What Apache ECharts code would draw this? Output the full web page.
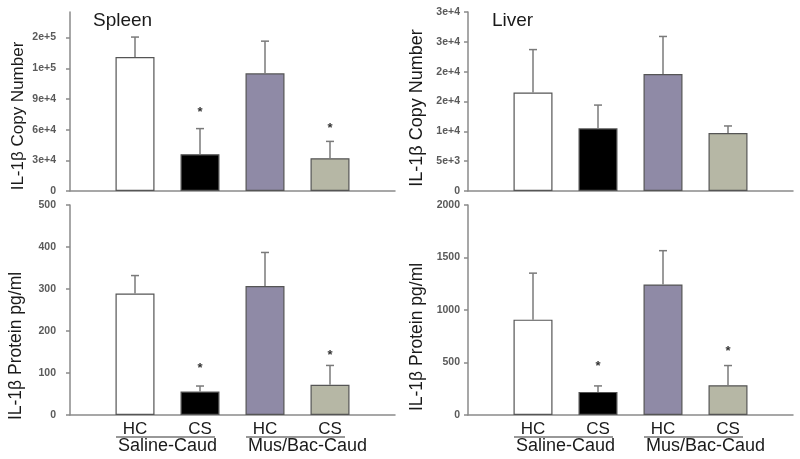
<!DOCTYPE html>
<html><head><meta charset="utf-8">
<script src="https://cdn.jsdelivr.net/npm/echarts@6/dist/echarts.min.js"></script>
<style>html,body{margin:0;padding:0;background:#fff}#c{width:800px;height:459px}</style>
</head><body><div id="c"></div>
<script>
// ---- data ----
const categories = ['', 'HC', 'CS', 'HC', 'CS', ''];
const groupNames = ['Saline-Caud', 'Mus/Bac-Caud'];
const panelTitles = ['Spleen', 'Liver'];
const yNames = ['IL-1\u03b2 Copy Number', 'IL-1\u03b2 Copy Number', 'IL-1\u03b2 Protein pg/ml', 'IL-1\u03b2 Protein pg/ml'];
const barColors = ['#ffffff', '#000000', '#8f8aa6', '#b6b7a5'];

const spleenCopy = [131000, 36000, 115000, 32000];
const spleenCopyErr = [19500, 25000, 31500, 16500];
const spleenCopyStar = [null, 80000, null, 64500];

const liverCopy = [16500, 10500, 19600, 9700];
const liverCopyErr = [7200, 3900, 6300, 1200];
const liverCopyStar = [null, null, null, null];

const spleenProt = [289, 56, 307, 72];
const spleenProtErr = [43, 13, 80, 46];
const spleenProtStar = [null, 118, null, 150];

const liverProt = [908, 220, 1243, 284];
const liverProtErr = [443, 57, 322, 187];
const liverProtStar = [null, 490, null, 631];

const spleenCopyTicks = [0, 30000, 60000, 90000, 120000, 150000];
const spleenCopyTickLabels = ['0', '3e+4', '6e+4', '9e+4', '1e+5', '2e+5'];
const liverCopyTicks = [0, 5000, 10000, 15000, 20000, 25000, 30000];
const liverCopyTickLabels = ['0', '5e+3', '1e+4', '2e+4', '2e+4', '3e+4', '3e+4'];
const spleenProtTicks = [0, 100, 200, 300, 400, 500];
const spleenProtTickLabels = ['0', '100', '200', '300', '400', '500'];
const liverProtTicks = [0, 500, 1000, 1500, 2000];
const liverProtTickLabels = ['0', '500', '1000', '1500', '2000'];

// ---- panels ----
const FONT = 'Liberation Sans, Arial, Helvetica, sans-serif';
const panels = [
  {vals: spleenCopy, err: spleenCopyErr, star: spleenCopyStar, ticks: spleenCopyTicks, labels: spleenCopyTickLabels, max: 175000,
   grid: {left: 70, top: 12, width: 325, height: 179}, labelMargin: 14, xLabels: false},
  {vals: liverCopy, err: liverCopyErr, star: liverCopyStar, ticks: liverCopyTicks, labels: liverCopyTickLabels, max: 30000,
   grid: {left: 468, top: 12, width: 325, height: 179}, labelMargin: 8, xLabels: false},
  {vals: spleenProt, err: spleenProtErr, star: spleenProtStar, ticks: spleenProtTicks, labels: spleenProtTickLabels, max: 500,
   grid: {left: 70, top: 205, width: 325, height: 210}, labelMargin: 14, xLabels: true},
  {vals: liverProt, err: liverProtErr, star: liverProtStar, ticks: liverProtTicks, labels: liverProtTickLabels, max: 2000,
   grid: {left: 468, top: 205, width: 325, height: 210}, labelMargin: 8, xLabels: true}
];

const AXIS_COLOR = '#8a8a8a';
const ERR_COLOR = '#7a7a7a';

function errRender(params, api) {
  const x = api.value(0), v = api.value(1), e = api.value(2);
  const p0 = api.coord([x, v]);
  const p1 = api.coord([x, v + e]);
  return {type: 'group', children: [
    {type: 'line', shape: {x1: p0[0], y1: p0[1], x2: p1[0], y2: p1[1]}, style: {stroke: ERR_COLOR, lineWidth: 1.5}},
    {type: 'line', shape: {x1: p1[0] - 4, y1: p1[1], x2: p1[0] + 4, y2: p1[1]}, style: {stroke: ERR_COLOR, lineWidth: 1.5}}
  ]};
}
function starRender(params, api) {
  const p = api.coord([api.value(0), api.value(1)]);
  return {type: 'text', x: p[0], y: p[1] + 3,
    style: {text: '*', align: 'center', verticalAlign: 'middle', fontSize: 13, fontWeight: 'bold', fill: '#333', fontFamily: FONT}};
}

const grids = [], xAxes = [], yAxes = [], series = [];
panels.forEach((pn, i) => {
  grids.push(Object.assign({containLabel: false}, pn.grid));
  xAxes.push({
    type: 'category', gridIndex: i, data: categories, boundaryGap: false,
    axisLine: {show: true, lineStyle: {color: AXIS_COLOR, width: 1.5}},
    axisTick: {show: false},
    axisLabel: {show: pn.xLabels, interval: 0, margin: 6, fontSize: 17, color: '#1a1a1a', fontFamily: FONT}
  });
  yAxes.push({
    type: 'value', gridIndex: i, min: 0, max: pn.max,
    splitLine: {show: false},
    axisLine: {show: true, lineStyle: {color: AXIS_COLOR, width: 1.5}},
    axisTick: {show: true, length: 4, inside: false, customValues: pn.ticks, lineStyle: {color: AXIS_COLOR, width: 1.5}},
    axisLabel: {show: true, customValues: pn.ticks, margin: pn.labelMargin, fontSize: 10.5, fontWeight: 'bold', color: '#5a5a5a', fontFamily: FONT,
      formatter: (v) => { const k = pn.ticks.indexOf(v); return k >= 0 ? pn.labels[k] : ''; }}
  });
  series.push({
    type: 'bar', xAxisIndex: i, yAxisIndex: i, barWidth: 39,
    data: [null].concat(pn.vals.map((v, k) => ({value: v, itemStyle: {color: barColors[k]}})), [null]),
    itemStyle: {borderColor: '#555555', borderWidth: 1.2}
  });
  series.push({
    type: 'custom', xAxisIndex: i, yAxisIndex: i, z: 3,
    data: pn.vals.map((v, k) => [k + 1, v, pn.err[k]]),
    renderItem: errRender
  });
  series.push({
    type: 'custom', xAxisIndex: i, yAxisIndex: i, z: 4,
    data: pn.star.map((s, k) => [k + 1, s]).filter(d => d[1] !== null),
    renderItem: starRender
  });
});

const chart = echarts.init(document.getElementById('c'), null, {renderer: 'canvas'});
chart.setOption({
  animation: false, backgroundColor: '#ffffff',
  grid: grids, xAxis: xAxes, yAxis: yAxes, series: series
});

// annotations: titles, y names, group underlines + labels
const graphics = [];
graphics.push({type: 'text', left: 93, top: 11, style: {text: panelTitles[0], fontSize: 19, fill: '#1a1a1a', fontFamily: FONT}});
graphics.push({type: 'text', left: 492, top: 11, style: {text: panelTitles[1], fontSize: 19, fill: '#1a1a1a', fontFamily: FONT}});
const namePos = [[18, 116, 17], [417, 108, 18], [16, 346, 17.5], [417, 337, 17.5]];
namePos.forEach((np, i) => {
  graphics.push({type: 'text', x: np[0], y: np[1], rotation: Math.PI / 2,
    style: {text: yNames[i], fontSize: np[2], fill: '#1a1a1a', align: 'center', verticalAlign: 'middle', fontFamily: FONT}});
});
[2, 3].forEach((ai) => {
  for (let g = 0; g < 2; g++) {
    const xHC = chart.convertToPixel({xAxisIndex: ai}, 1 + 2 * g);
    const xCS = chart.convertToPixel({xAxisIndex: ai}, 2 + 2 * g);
    const yAx = chart.convertToPixel({yAxisIndex: ai}, 0);
    const x1 = xHC - 19, x2 = xCS + 15;
    graphics.push({type: 'line', shape: {x1: x1, y1: yAx + 22, x2: x2, y2: yAx + 22}, style: {stroke: '#333', lineWidth: 1.2}});
    graphics.push({type: 'text', x: x1 + 2, y: yAx + 31,
      style: {text: groupNames[g], fontSize: 18, fill: '#1a1a1a', align: 'left', verticalAlign: 'middle', fontFamily: FONT}});
  }
});
chart.setOption({graphic: graphics});
</script>
</body></html>
